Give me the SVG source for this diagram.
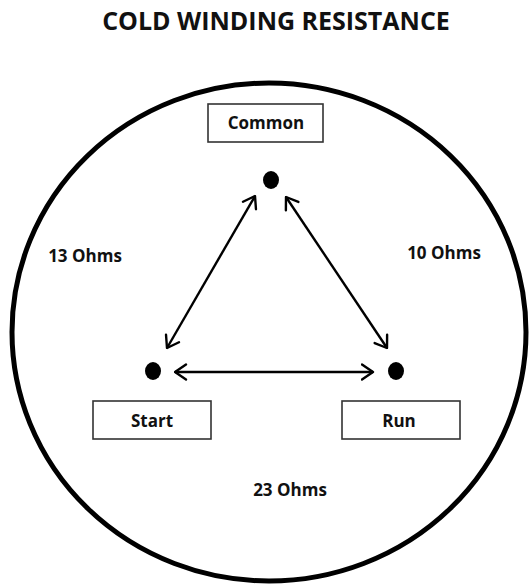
<svg xmlns="http://www.w3.org/2000/svg" width="529" height="585" viewBox="0 0 529 585">
<style>
.lbl{font-family:"Open Sans","Liberation Sans",sans-serif;font-weight:bold;font-size:17px;fill:#111;text-anchor:middle}
.box{fill:#fff;stroke:#333;stroke-width:1.6}
.dot{fill:#000}
.conn{stroke:#000;stroke-width:2.4;fill:none}
</style>
<defs>
<marker id="arr" viewBox="0 0 14 18" refX="12.5" refY="9" markerWidth="14" markerHeight="18" markerUnits="userSpaceOnUse" orient="auto-start-reverse">
<path d="M1.5,1.5 L12.5,9 L1.5,16.5" fill="none" stroke="#000" stroke-width="2.4" stroke-linecap="round" stroke-linejoin="round"/>
</marker>
</defs>
<rect width="529" height="585" fill="#fff"/>
<text x="276" y="30" class="lbl" style="font-size:25px">COLD WINDING RESISTANCE</text>
<ellipse cx="269" cy="332" rx="257" ry="249" fill="none" stroke="#000" stroke-width="5"/>
<g id="connectors">
<line class="conn" x1="167" y1="348" x2="255" y2="196" marker-start="url(#arr)" marker-end="url(#arr)"/>
<line class="conn" x1="286" y1="197" x2="387" y2="348" marker-start="url(#arr)" marker-end="url(#arr)"/>
<line class="conn" x1="175" y1="372" x2="373" y2="372" marker-start="url(#arr)" marker-end="url(#arr)"/>
</g>
<g id="common">
<rect class="box" x="208" y="104" width="115" height="38"/>
<text class="lbl" x="266" y="129">Common</text>
<ellipse class="dot" cx="271" cy="180" rx="8" ry="9"/>
</g>
<g id="start">
<rect class="box" x="93" y="401" width="118" height="38"/>
<text class="lbl" x="152" y="427">Start</text>
<ellipse class="dot" cx="153" cy="371" rx="8" ry="9"/>
</g>
<g id="run">
<rect class="box" x="342" y="401" width="118" height="38"/>
<text class="lbl" x="399" y="427">Run</text>
<ellipse class="dot" cx="396" cy="371" rx="8" ry="9"/>
</g>
<g id="labels">
<text class="lbl" x="85" y="262">13 Ohms</text>
<text class="lbl" x="444" y="259">10 Ohms</text>
<text class="lbl" x="290" y="496">23 Ohms</text>
</g>
</svg>
